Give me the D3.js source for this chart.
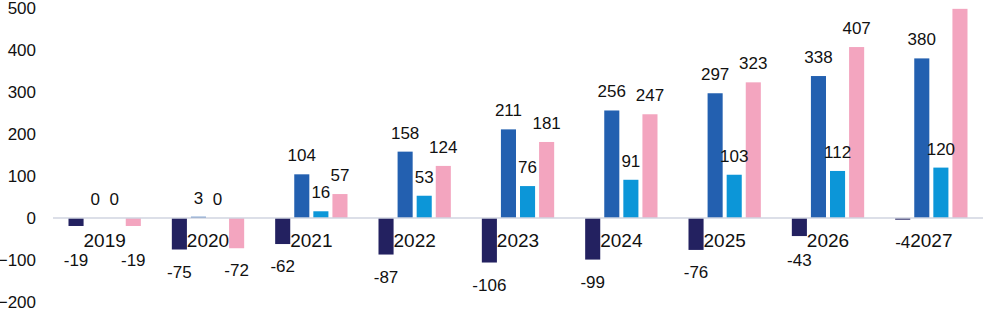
<!DOCTYPE html>
<html>
<head>
<meta charset="utf-8">
<script src="https://cdn.jsdelivr.net/npm/d3@7"></script>
<style>
  body { margin: 0; background: #fff; }
  text { font-family: "Liberation Sans", Arial, sans-serif; fill: #111; }
</style>
</head>
<body>
<div id="chart"></div>
<script>
// Chart data
const years = ["2019", "2020", "2021", "2022", "2023", "2024", "2025", "2026", "2027"];
const seriesNames = ["s1", "s2", "s3", "s4"];
const s1 = [-19, -75, -62, -87, -106, -99, -76, -43, -4];
const s2 = [0, 3, 104, 158, 211, 256, 297, 338, 380];
const s3 = [0, 0, 16, 53, 76, 91, 103, 112, 120];
const s4 = [-19, -72, 57, 124, 181, 247, 323, 407, 498];
const yTicks = [-200, -100, 0, 100, 200, 300, 400, 500];

const colors = ["#232160", "#2360b0", "#0c96d8", "#f3a5bf"];
const allSeries = [s1, s2, s3, s4];

const width = 983, height = 309;
const margin = { top: 8, right: 0, bottom: 7, left: 53 };

const svg = d3.select("#chart")
  .append("svg")
  .attr("width", width)
  .attr("height", height);

// Scales
const x0 = d3.scaleBand()
  .domain(years)
  .range([margin.left, width - margin.right])
  .paddingInner(0.3)
  .paddingOuter(0.15);

const x1 = d3.scaleBand()
  .domain(seriesNames)
  .range([0, x0.bandwidth()])
  .paddingInner(0.21);

const y = d3.scaleLinear()
  .domain([-200, 500])
  .range([height - margin.bottom, margin.top]);

// Y axis (labels only)
const yAxis = d3.axisLeft(y).tickValues(yTicks).tickSize(0).tickPadding(0);
const yG = svg.append("g")
  .attr("transform", "translate(36,0)")
  .call(yAxis);
yG.select(".domain").remove();
yG.selectAll("text")
  .style("font-size", "17px")
  .style("font-family", "'Liberation Sans', Arial, sans-serif")
  .attr("fill", "#111");

// Clip so tall bars stop at the top of the axis
svg.append("clipPath").attr("id", "plot-clip")
  .append("rect")
  .attr("x", margin.left)
  .attr("y", y(500))
  .attr("width", width - margin.left)
  .attr("height", y(-200) - y(500));

// Flatten rows for drawing
const rows = [];
years.forEach((yr, i) => {
  seriesNames.forEach((s, j) => {
    rows.push({ year: yr, series: s, value: allSeries[j][i], color: colors[j] });
  });
});

// Bars
svg.append("g")
  .attr("clip-path", "url(#plot-clip)")
  .selectAll("rect")
  .data(rows)
  .join("rect")
  .attr("x", d => x0(d.year) + x1(d.series))
  .attr("width", x1.bandwidth())
  .attr("y", d => y(Math.max(0, d.value)))
  .attr("height", d => Math.abs(y(d.value) - y(0)))
  .attr("fill", d => d.color);

// Zero line
svg.append("line")
  .attr("x1", margin.left)
  .attr("x2", width)
  .attr("y1", y(0))
  .attr("y2", y(0))
  .attr("stroke", "#d0d4e0")
  .attr("stroke-width", 1.5);

// Category labels
const catY = y(0) + 29;
const catLabels = svg.append("g")
  .selectAll("text")
  .data(years)
  .join("text")
  .attr("x", d => x0(d) + x0.bandwidth() / 2)
  .attr("y", catY)
  .attr("text-anchor", "middle")
  .style("font-size", "19px")
  .text(d => d);

// Value labels
const valLabels = svg.append("g")
  .selectAll("text")
  .data(rows)
  .join("text")
  .attr("x", d => x0(d.year) + x1(d.series) + x1.bandwidth() / 2)
  .attr("y", d => d.value >= 0 ? y(d.value) - 13 : y(d.value) + 28)
  .attr("text-anchor", "middle")
  .style("font-size", "17px")
  .text(d => d.value);

// Push negative labels below the year label when they collide with it
const catBoxes = {};
catLabels.each(function (d) { catBoxes[d] = this.getBBox(); });
valLabels.each(function (d) {
  if (d.value >= 0) return;
  const b = this.getBBox();
  const c = catBoxes[d.year];
  const overlapX = b.x < c.x + c.width - 1 && b.x + b.width > c.x + 1;
  const overlapY = b.y < c.y + c.height && b.y + b.height > c.y;
  if (overlapX && overlapY) d3.select(this).attr("y", catY + 19);
});
</script>
</body>
</html>
